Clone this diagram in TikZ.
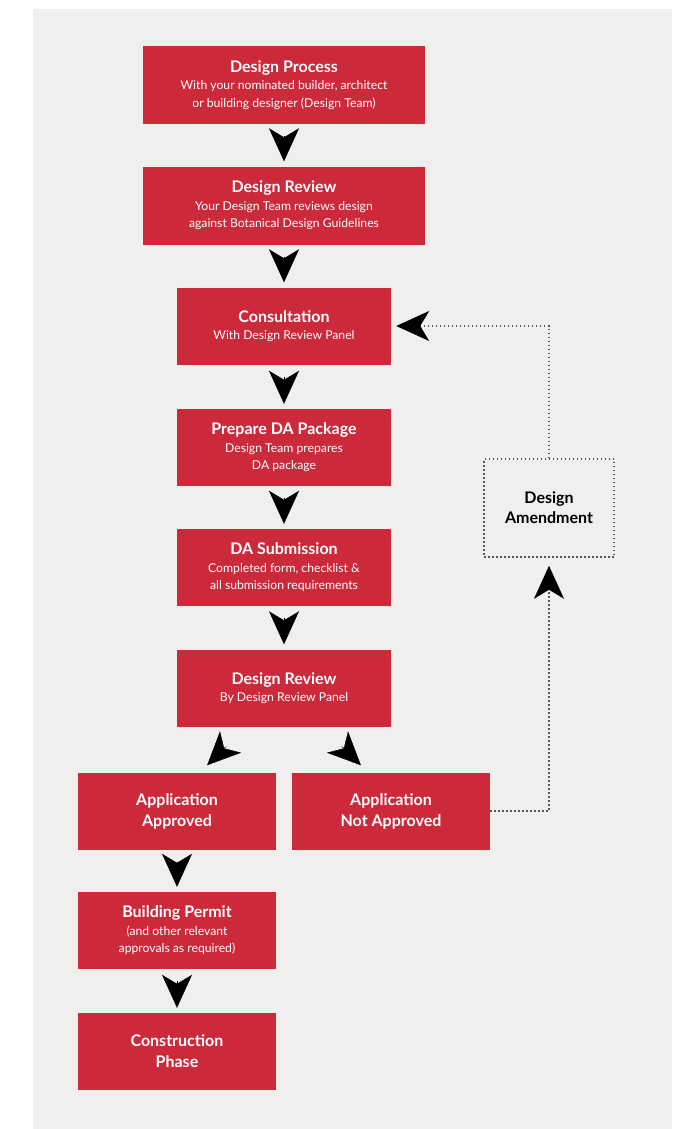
\documentclass[tikz,border=0pt]{standalone}
\usepackage{fontspec}
\setmainfont{Lato}
\usetikzlibrary{arrows.meta}
\definecolor{boxred}{RGB}{204,41,59}
\definecolor{panelgrey}{RGB}{240,239,237}
\definecolor{dotgrey}{RGB}{85,85,85}
\newcommand{\boxhead}[1]{{\fontsize{16}{18}\selectfont\bfseries #1}}

\begin{document}
\begin{tikzpicture}[x=1pt, y=-1pt,
		redbox/.style={fill=boxred, text=white, align=center, inner sep=0pt, font=\fontsize{12.2}{17.5}\selectfont},
		widebox/.style={redbox, minimum width=282pt, minimum height=78pt},
		midbox/.style={redbox, minimum width=214pt, minimum height=77pt},
		smallbox/.style={redbox, minimum width=198pt, minimum height=77pt},
		headbox/.style={smallbox, font=\fontsize{16}{21}\selectfont\bfseries},
		arr/.style={-{Stealth[length=33pt, width=30pt, inset=9pt]}, shorten >=5pt, shorten <=12pt},
		dots/.style={dotgrey, line width=1.5pt, dash pattern=on 1.5pt off 2.5pt}]
		\fill [white] (0,0) rectangle (674,1129);
		\fill [panelgrey] (33,9) rectangle (672,1129);
		\node [widebox] (dp) at (284,85) {\boxhead{Design Process}\\With your nominated builder, architect\\or building designer (Design Team)};
		\node [widebox] (dr) at (284,205.5) {\boxhead{Design Review}\\Your Design Team reviews design\\against Botanical Design Guidelines};
		\node [midbox] (con) at (284,326) {\boxhead{Consultation}\\With Design Review Panel};
		\node [midbox] (prep) at (284,447.5) {\boxhead{Prepare DA Package}\\Design Team prepares\\DA package};
		\node [midbox] (sub) at (284,567.5) {\boxhead{DA Submission}\\Completed form, checklist \&\\all submission requirements};
		\node [midbox] (rev) at (284,688) {\boxhead{Design Review}\\By Design Review Panel};
		\node [headbox] (app) at (177,811) {Application\\Approved};
		\node [headbox] (napp) at (391,811) {Application\\Not Approved};
		\node [smallbox] (perm) at (177,930.5) {\boxhead{Building Permit}\\(and other relevant\\approvals as required)};
		\node [headbox] (cons) at (177,1051.5) {Construction\\Phase};
		\node [dots, draw, text=black, align=center, minimum width=130pt, minimum height=98pt, font=\fontsize{16}{20}\selectfont\bfseries] (amend) at (549,508) {Design\\Amendment};
		\foreach \a/\b in {dp/dr, dr/con, con/prep, prep/sub, sub/rev, app/perm, perm/cons} {
			\draw [arr] (\a.south) -- (\b.north);
		}
		\draw [arr, shorten <=28pt, shorten >=10pt] ([xshift=-38pt]rev.south) -- ([xshift=23pt]app.north);
		\draw [arr, shorten <=28pt, shorten >=10pt] ([xshift=38pt]rev.south) -- ([xshift=-23pt]napp.north);
		\draw [dots, -{Stealth[length=33pt, width=30pt, inset=9pt, black]}, shorten >=8pt] (napp.east) -| (amend.south);
		\draw [dots, -{Stealth[length=33pt, width=30pt, inset=9pt, black]}, shorten >=5pt] (amend.north) |- (con.east);
	\end{tikzpicture}
\end{document}
